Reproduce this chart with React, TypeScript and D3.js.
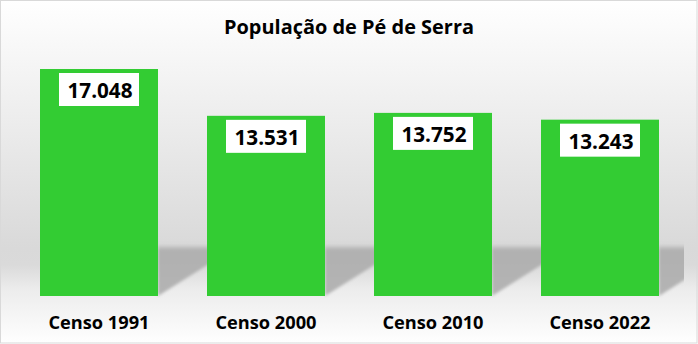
import React from "react";
import * as d3 from "d3";

const categories = ["Censo 1991", "Censo 2000", "Censo 2010", "Censo 2022"];
const values = [17048, 13531, 13752, 13243];
const valueLabels = ["17.048", "13.531", "13.752", "13.243"];
const title = "População de Pé de Serra";

const W = 698;
const H = 344;
const FONT = "'Open Sans', 'Noto Sans', sans-serif";

export default function App() {
  const x = d3.scaleBand<string>().domain(categories).range([15, 684]).paddingInner(0.2934).paddingOuter(0.1497);
  const y = d3.scaleLinear().domain([0, 17048]).range([296, 69]);
  const bw = x.bandwidth();

  return (
    <svg width={W} height={H} style={{ position: "absolute", left: 0, top: 0 }} xmlns="http://www.w3.org/2000/svg">
      <defs>
        <linearGradient id="bg" x1="0" y1="0" x2="0" y2="1">
          <stop offset="0" stopColor="#ffffff" />
          <stop offset="0.72" stopColor="#d9d9d9" />
          <stop offset="0.77" stopColor="#dadada" />
          <stop offset="0.84" stopColor="#ececec" />
          <stop offset="1" stopColor="#ffffff" />
        </linearGradient>
        <linearGradient id="shadowGrad" x1="0" y1="0" x2="0" y2="1">
          <stop offset="0" stopColor="#b0b0b0" stopOpacity="0" />
          <stop offset="0.12" stopColor="#b0b0b0" stopOpacity="1" />
          <stop offset="1" stopColor="#b4b4b4" stopOpacity="1" />
        </linearGradient>
        <filter id="blur" x="-20%" y="-20%" width="140%" height="140%">
          <feGaussianBlur stdDeviation="1.5" />
        </filter>
        <clipPath id="plotClip">
          <rect x={15} y={0} width={669} height={H} />
        </clipPath>
      </defs>
      <rect x={0} y={0} width={W} height={H} fill="url(#bg)" />
      <g clipPath="url(#plotClip)">
        {categories.map((c) => {
          const r = (x(c) as number) + bw;
          const top = 244;
          const bottom = y(0);
          const len = 60;
          const pts = [
            [r, top],
            [r + len, top],
            [r + len, bottom - 0.63 * len],
            [r, bottom],
          ];
          return (
            <polygon
              key={"s" + c}
              points={pts.map((p) => p.join(",")).join(" ")}
              fill="url(#shadowGrad)"
              filter="url(#blur)"
            />
          );
        })}
      </g>
      <rect x={0.5} y={0.5} width={W - 1.5} height={H - 1.5} fill="none" stroke="#d9d9d9" strokeWidth={1} />
      <text x={349} y={34} textAnchor="middle" fontFamily={FONT} fontWeight="bold" fontSize={20} fill="#000" textLength={250} lengthAdjust="spacingAndGlyphs">
        {title}
      </text>
      {categories.map((c, i) => {
        const bx = x(c) as number;
        const cx = bx + bw / 2;
        const top = y(values[i]);
        return (
          <g key={c}>
            <rect x={bx} y={top} width={bw} height={y(0) - top} fill="#33cc33" />
            <rect x={cx - 40} y={top + 4} width={80} height={33} fill="#ffffff" />
            <text x={cx + 1} y={top + 29} textAnchor="middle" fontFamily={FONT} fontWeight="bold" fontSize={21} fill="#000" textLength={65} lengthAdjust="spacingAndGlyphs">
              {valueLabels[i]}
            </text>
            <text x={cx} y={329} textAnchor="middle" fontFamily={FONT} fontWeight="bold" fontSize={18} fill="#000" textLength={101} lengthAdjust="spacingAndGlyphs">
              {c}
            </text>
          </g>
        );
      })}
    </svg>
  );
}
